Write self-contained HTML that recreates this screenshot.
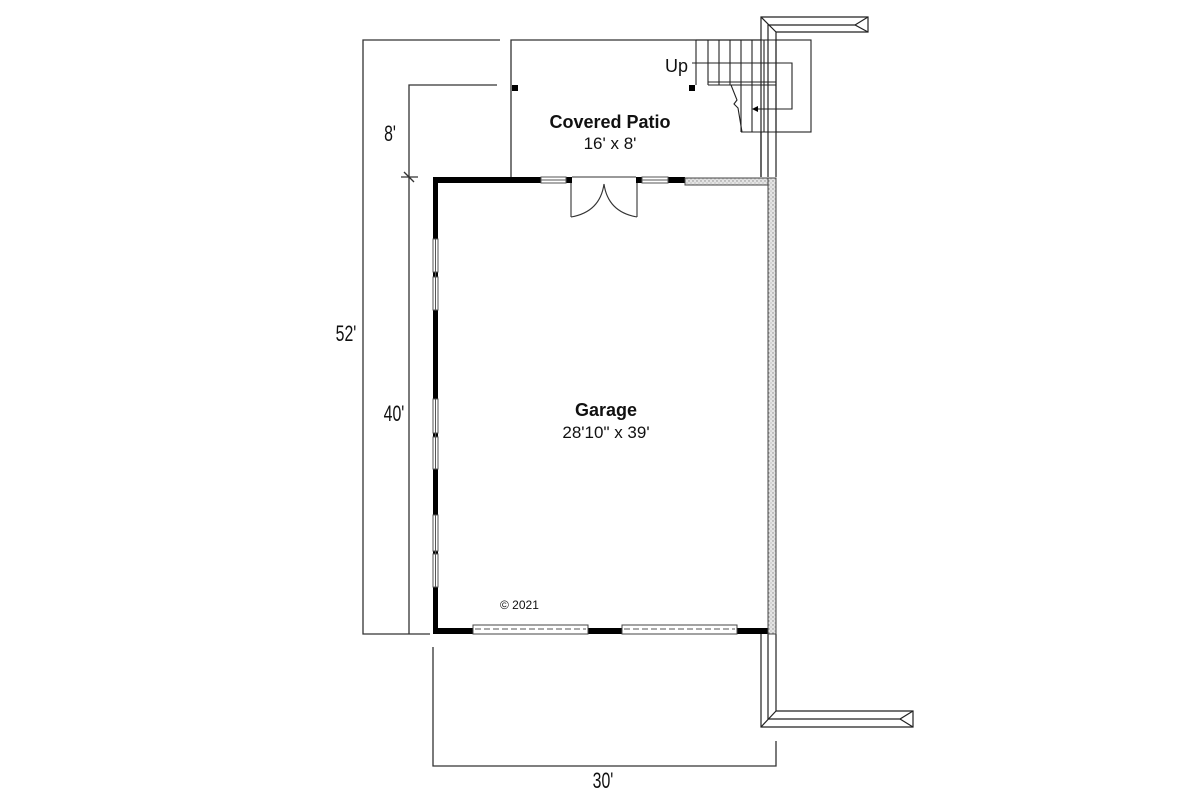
<!DOCTYPE html>
<html><head><style>
html,body{margin:0;padding:0;background:#fff;}
svg{display:block}
text{font-family:"Liberation Sans",sans-serif;fill:#111}
.d{font-family:"Liberation Sans Narrow","Liberation Sans",sans-serif;font-size:22px}
</style></head><body>
<svg width="1200" height="800" viewBox="0 0 1200 800" xmlns="http://www.w3.org/2000/svg">
<defs>
<pattern id="dots" width="4" height="4" patternUnits="userSpaceOnUse">
<rect width="4" height="4" fill="#e4e4e4"/><circle cx="1" cy="1" r="0.7" fill="#888"/><circle cx="3" cy="3" r="0.6" fill="#aaa"/>
</pattern>
</defs>
<g stroke="#333" stroke-width="1.3" fill="none">
<polyline points="500,40 363,40 363,634 430,634"/>
<polyline points="497,85 409,85 409,634"/>
<line x1="401" y1="177" x2="418" y2="177"/>
<line x1="404" y1="172" x2="414" y2="182"/>
<polyline points="433,647 433,766 776,766 776,741"/>
<polyline points="511,177 511,40 761,40"/>
</g>
<rect x="512" y="85" width="6" height="6" fill="#000"/>
<rect x="689" y="85" width="6" height="6" fill="#000"/>
<g stroke="#222" stroke-width="1.1" fill="none">
<rect x="776" y="40" width="35" height="92"/>
<polyline points="696,40 776,40"/>
<line x1="696" y1="40" x2="696" y2="85"/>
<line x1="708" y1="40" x2="708" y2="85"/>
<line x1="719" y1="40" x2="719" y2="85"/>
<line x1="730" y1="40" x2="730" y2="85"/>
<line x1="741" y1="40" x2="741" y2="132"/>
<line x1="752" y1="40" x2="752" y2="132"/>
<line x1="764" y1="40" x2="764" y2="132"/>
<line x1="708" y1="82" x2="776" y2="82"/>
<line x1="708" y1="85" x2="776" y2="85"/>
<line x1="741" y1="132" x2="776" y2="132"/>
<polyline points="731,85 737,100 734,104 738,108 742,132"/>
<polyline points="692,63 792,63 792,109 754,109"/>
</g>
<polygon points="752,109 758,106 758,112" fill="#000"/>
<g stroke="#222" stroke-width="1.2" fill="none">
<polyline points="761,177 761,17 868,17 868,32 776,32 776,177"/>
<line x1="761" y1="17" x2="776" y2="32"/>
<line x1="868" y1="17" x2="855" y2="25"/>
<polyline points="768,177 768,25 855,25 868,32"/>
<polyline points="761,634 761,727 913,727 913,711 776,711 776,634"/>
<line x1="761" y1="727" x2="776" y2="711"/>
<polyline points="768,634 768,719 900,719 913,711"/>
<line x1="900" y1="719" x2="913" y2="727"/>
<line x1="761" y1="132" x2="761" y2="177"/>
</g>
<g fill="#000">
<rect x="433" y="177" width="108" height="6"/>
<rect x="433" y="177" width="5" height="457"/>
<rect x="433" y="628" width="40" height="6"/>
<rect x="588" y="628" width="34" height="6"/>
<rect x="737" y="628" width="32" height="6"/>
<rect x="566" y="177" width="6" height="6"/>
<rect x="636" y="177" width="6" height="6"/>
<rect x="668" y="177" width="17" height="6"/>
</g>
<g stroke="#555" stroke-width="1" fill="#fff">
<rect x="541" y="177" width="25" height="6"/><line x1="541" y1="180" x2="566" y2="180"/>
<rect x="642" y="177" width="26" height="6"/><line x1="642" y1="180" x2="668" y2="180"/>
</g>
<g stroke="#555" stroke-width="1" fill="#fff">
<rect x="433" y="239" width="5" height="33"/><rect x="433" y="277" width="5" height="33"/>
<rect x="433" y="399" width="5" height="34"/><rect x="433" y="437" width="5" height="32"/>
<rect x="433" y="515" width="5" height="36"/><rect x="433" y="554" width="5" height="33"/>
<line x1="435.5" y1="239" x2="435.5" y2="310"/><line x1="435.5" y1="399" x2="435.5" y2="469"/><line x1="435.5" y1="515" x2="435.5" y2="587"/>
</g>
<g stroke="#333" stroke-width="1.1" fill="none">
<line x1="572" y1="177" x2="636" y2="177"/>
<line x1="571" y1="183" x2="571" y2="217"/>
<line x1="637" y1="183" x2="637" y2="217"/>
<path d="M571,217 Q600,212 604,184"/>
<path d="M637,217 Q608,212 604,184"/>
</g>
<rect x="685" y="178" width="91" height="7" fill="url(#dots)" stroke="#444" stroke-width="1"/>
<rect x="768" y="178" width="8" height="456" fill="url(#dots)" stroke="#444" stroke-width="1"/>
<g stroke="#444" stroke-width="1" fill="#fff">
<rect x="473" y="625" width="115" height="9"/>
<rect x="622" y="625" width="115" height="9"/>
</g>
<g stroke="#555" stroke-width="1" stroke-dasharray="6,3">
<line x1="475" y1="629" x2="586" y2="629"/>
<line x1="624" y1="629" x2="735" y2="629"/>
</g>
<text x="688" y="72" font-size="18" text-anchor="end">Up</text>
<text x="610" y="128" font-size="18" font-weight="bold" text-anchor="middle">Covered Patio</text>
<text x="610" y="149" font-size="17" text-anchor="middle">16' x 8'</text>
<text x="606" y="416" font-size="18" font-weight="bold" text-anchor="middle">Garage</text>
<text x="606" y="438" font-size="17" text-anchor="middle">28'10" x 39'</text>
<text x="500" y="609" font-size="12">© 2021</text>
<text class="d" transform="translate(346,341) scale(0.72,1)" text-anchor="middle">52'</text>
<text class="d" transform="translate(390,141) scale(0.72,1)" text-anchor="middle">8'</text>
<text class="d" transform="translate(394,421) scale(0.72,1)" text-anchor="middle">40'</text>
<text class="d" transform="translate(603,788) scale(0.72,1)" text-anchor="middle">30'</text>
</svg>
</body></html>
